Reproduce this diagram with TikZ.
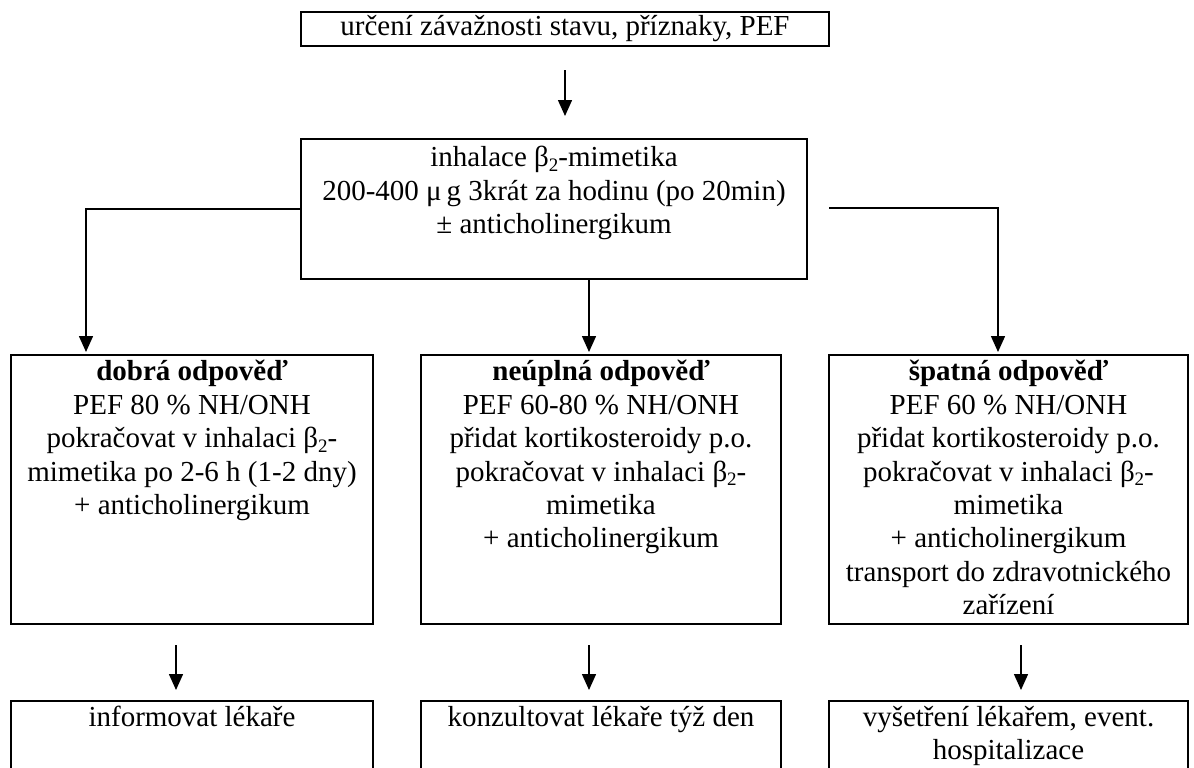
\documentclass[tikz,border=0pt]{standalone}
\usepackage{fontspec}
\setmainfont{Liberation Serif}
\usetikzlibrary{arrows.meta}
\tikzset{
    box/.style = {draw, line width=1pt, anchor=north west, inner sep=0pt},
    boxtext/.style = {anchor=north, align=center, inner sep=3pt, font=\fontsize{14.5}{16.7}\selectfont},
    arr/.style = {-{Triangle[width=7pt,length=8pt]}, line width=0.75pt}
}
\newcommand{\betatwo}{β\raisebox{-0.35ex}{\fontsize{9.5}{10}\selectfont 2}}
\begin{document}
\begin{tikzpicture}[x=0.5pt, y=-0.5pt]
            \useasboundingbox (0,0) rectangle (1194,767);
            \clip (0,0) rectangle (1194,767);
            % boxes
            \node[box, minimum width=264pt, minimum height=17pt] (urceni) at (300,11) {};
            \node[box, minimum width=253pt, minimum height=70pt] (inhalace) at (300,138) {};
            \node[box, minimum width=181pt, minimum height=134.5pt] (dobra) at (10,354) {};
            \node[box, minimum width=180pt, minimum height=134.5pt] (neuplna) at (420,354) {};
            \node[box, minimum width=179.5pt, minimum height=134.5pt] (spatna) at (828,354) {};
            \node[box, minimum width=181pt, minimum height=70pt] (informovat) at (10,700) {};
            \node[box, minimum width=180pt, minimum height=70pt] (konzultovat) at (420,700) {};
            \node[box, minimum width=179.5pt, minimum height=70pt] (vysetreni) at (828,700) {};
            % texts
            \node[boxtext, anchor=center] (urceniT) at (urceni.center) {určení závažnosti stavu, příznaky, PEF};
            \node[boxtext] (inhalaceT) at ([yshift=-1pt]inhalace.north) {inhalace \betatwo-mimetika\\
                200-400 μ\,g 3krát za hodinu (po 20min)\\ ± anticholinergikum};
            \node[boxtext] (dobraT) at (dobra.north) {\textbf{dobrá odpověď}\\ PEF 80 \% NH/ONH\\
                pokračovat v inhalaci \betatwo-\\ mimetika po 2-6 h (1-2 dny)\\ + anticholinergikum};
            \node[boxtext] (neuplnaT) at (neuplna.north) {\textbf{neúplná odpověď}\\ PEF 60-80 \% NH/ONH\\
                přidat kortikosteroidy p.o.\\ pokračovat v inhalaci \betatwo-\\ mimetika\\ + anticholinergikum};
            \node[boxtext] (spatnaT) at (spatna.north) {\textbf{špatná odpověď}\\ PEF 60 \% NH/ONH\\
                přidat kortikosteroidy p.o.\\ pokračovat v inhalaci \betatwo-\\ mimetika\\ + anticholinergikum\\
                transport do zdravotnického\\ zařízení};
            \node[boxtext] (informovatT) at (informovat.north) {informovat lékaře};
            \node[boxtext] (konzultovatT) at (konzultovat.north) {konzultovat lékaře týž den};
            \node[boxtext] (vysetreniT) at (vysetreni.north) {vyšetření lékařem, event.\\ hospitalizace};
            % arrows
            \coordinate (pravy) at ([xshift=10.5pt, yshift=0.5pt]inhalace.east);
            \draw[arr, shorten <=11.5pt, shorten >=11pt] (urceni.south) -- (urceni.south |- inhalace.north);
            \draw[arr, shorten >=1pt] (inhalace.west) -| ([xshift=-53pt]dobra.north);
            \draw[arr, shorten >=1pt] ([xshift=17.5pt]inhalace.south) -- ([xshift=17.5pt]inhalace.south |- neuplna.north);
            \draw[arr, shorten >=1pt] (pravy) -| ([xshift=-5.25pt]spatna.north);
            \draw[arr, shorten <=10pt, shorten >=5pt] ([xshift=-8pt]dobra.south) -- ([xshift=-8pt]informovat.north);
            \draw[arr, shorten <=10pt, shorten >=5pt] ([xshift=-6pt]neuplna.south) -- ([xshift=-6pt]konzultovat.north);
            \draw[arr, shorten <=10pt, shorten >=5pt] ([xshift=6.25pt]spatna.south) -- ([xshift=6.25pt]vysetreni.north);
        \end{tikzpicture}
\end{document}
